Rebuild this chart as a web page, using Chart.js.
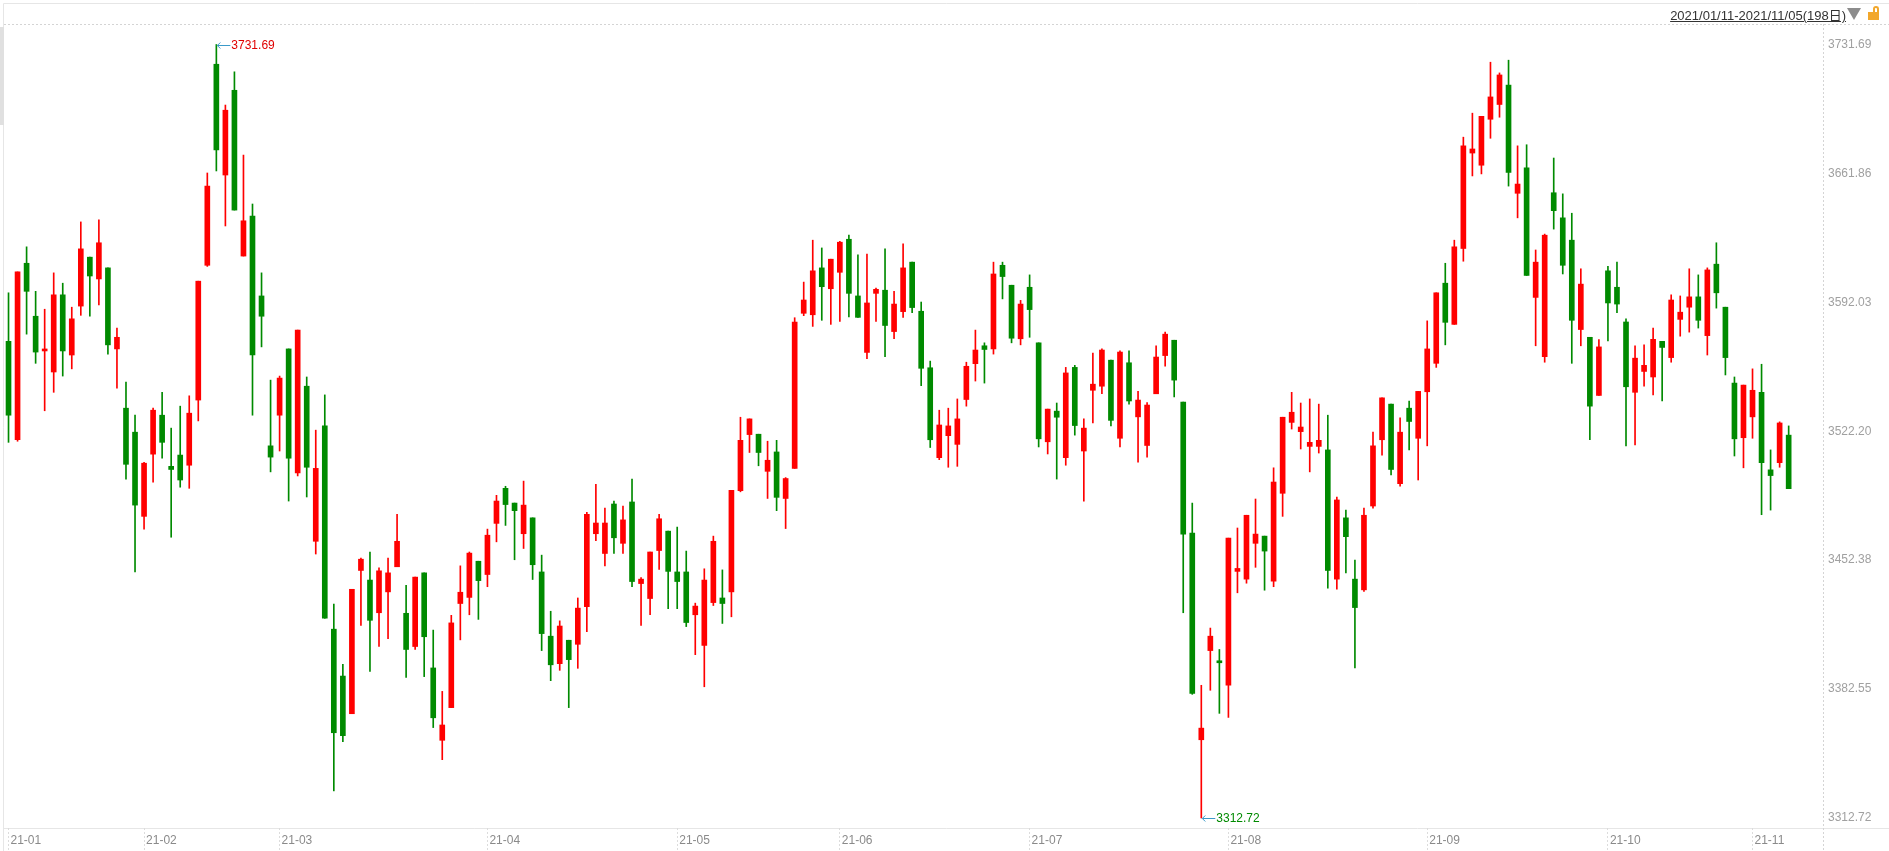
<!DOCTYPE html>
<html lang="zh-CN">
<head>
  <meta charset="UTF-8">
  <title>K线图 2021/01/11-2021/11/05</title>
  <script src="https://cdn.jsdelivr.net/npm/chart.js@4.4.1/dist/chart.umd.min.js"></script>
  <style>
    body {
      margin: 0;
      padding: 0;
      background: #fff;
      font-family: "Liberation Sans", Arial, "Noto Sans CJK SC", sans-serif;
    }
    .wrap {
      position: relative;
      width: 1889px;
      height: 851px;
      overflow: hidden;
    }
    /* 顶部右侧的区间文字 */
    .range {
      position: absolute;
      right: 43px;
      top: 5px;
      font-size: 13px;
      color: #333;
      text-decoration: underline;
      font-family: "Liberation Sans", Arial, "Noto Sans CJK SC", sans-serif;
    }
    .tri {
      position: absolute;
      left: 1847px;
      top: 8px;
      width: 0;
      height: 0;
      border-left: 7px solid transparent;
      border-right: 7px solid transparent;
      border-top: 12px solid #8c8c8c;
    }
    .lock {
      position: absolute;
      left: 1868px;
      top: 12px;
      width: 11px;
      height: 8px;
      background: #f2a72b;
    }
    .lock::before {
      content: "";
      position: absolute;
      left: 5px;
      top: -6px;
      width: 6px;
      height: 7px;
      border: 2px solid #f2a72b;
      border-bottom: none;
      border-radius: 4px 4px 0 0;
      box-sizing: border-box;
    }
  </style>
</head>
<body>
<div class="wrap">
  <canvas id="kline"></canvas>
  <div class="range" id="range"></div>
  <div class="tri"></div>
  <div class="lock"></div>
</div>

<script>
// ---- 数据 ----
const rangeText = "2021/01/11-2021/11/05(198日)";

// 每月第一个交易日的序号与标签
const monthStarts = [0, 15, 30, 53, 74, 92, 113, 135, 157, 177, 193];
const monthLabels = ["21-01", "21-02", "21-03", "21-04", "21-05", "21-06",
                     "21-07", "21-08", "21-09", "21-10", "21-11"];

// 右侧价格刻度
const priceTicks = [3312.72, 3382.55, 3452.38, 3522.20, 3592.03, 3661.86, 3731.69];

const opens = [
  3570.9, 3517.6, 3613.2, 3584.5, 3565.7, 3554.3, 3596.1, 3563.5, 3590.0, 3616.5,
  3604.7, 3610.7, 3566.8, 3534.7, 3521.7, 3476.1, 3509.8, 3530.9, 3503.2, 3509.3,
  3503.8, 3539.1, 3612.1, 3721.0, 3661.0, 3706.9, 3617.1, 3638.7, 3595.5, 3514.3,
  3530.9, 3566.8, 3499.6, 3546.6, 3462.6, 3525.1, 3415.0, 3389.6, 3369.2, 3446.8,
  3441.6, 3423.9, 3435.2, 3448.8, 3423.6, 3405.6, 3445.5, 3394.0, 3354.8, 3372.5,
  3428.9, 3432.2, 3451.8, 3444.6, 3472.3, 3491.3, 3483.3, 3466.7, 3475.3, 3446.0,
  3411.2, 3396.3, 3409.0, 3406.8, 3427.2, 3466.7, 3456.0, 3482.8, 3461.5, 3483.9,
  3439.7, 3431.6, 3457.6, 3468.1, 3446.0, 3446.0, 3422.8, 3406.2, 3429.4, 3431.9,
  3435.2, 3490.0, 3520.4, 3520.6, 3500.5, 3511.0, 3485.8, 3502.1, 3586.1, 3585.3,
  3610.7, 3599.4, 3608.3, 3626.2, 3595.5, 3564.9, 3596.9, 3598.6, 3576.2, 3587.0,
  3613.8, 3587.2, 3556.6, 3507.9, 3519.8, 3515.1, 3539.4, 3558.8, 3568.5, 3566.8,
  3612.1, 3601.3, 3572.3, 3600.2, 3570.1, 3516.5, 3533.1, 3507.9, 3556.8, 3511.5,
  3544.4, 3546.6, 3560.7, 3518.4, 3559.3, 3530.0, 3514.5, 3542.5, 3563.2, 3571.5,
  3538.0, 3467.0, 3355.1, 3403.4, 3397.4, 3384.6, 3446.3, 3442.1, 3461.5, 3465.4,
  3441.0, 3488.6, 3527.0, 3522.0, 3514.0, 3514.0, 3512.1, 3442.1, 3475.3, 3442.1,
  3436.3, 3481.7, 3517.6, 3536.9, 3493.8, 3534.7, 3518.4, 3543.6, 3559.0, 3602.4,
  3580.1, 3621.2, 3672.9, 3666.3, 3691.2, 3699.2, 3709.7, 3651.1, 3664.9, 3594.7,
  3562.6, 3651.4, 3637.8, 3625.7, 3577.3, 3573.1, 3541.6, 3609.1, 3600.2, 3581.4,
  3543.3, 3554.6, 3551.6, 3570.9, 3562.1, 3582.8, 3589.4, 3595.0, 3574.0, 3612.7,
  3589.4, 3548.3, 3518.7, 3530.0, 3543.3, 3501.3, 3505.2, 3520.1
];
const highs = [
  3597.2, 3608.5, 3622.1, 3598.0, 3588.3, 3608.0, 3602.4, 3589.4, 3635.6, 3616.5,
  3636.7, 3610.7, 3578.1, 3548.8, 3530.9, 3505.4, 3534.7, 3543.3, 3523.9, 3535.8,
  3541.4, 3603.5, 3662.1, 3731.69, 3698.9, 3716.9, 3671.8, 3645.3, 3608.0, 3549.9,
  3552.1, 3566.8, 3577.0, 3551.6, 3522.8, 3541.9, 3428.6, 3396.0, 3436.6, 3453.5,
  3456.8, 3448.2, 3453.5, 3477.2, 3438.8, 3443.2, 3445.5, 3414.5, 3381.3, 3422.5,
  3449.3, 3456.8, 3451.8, 3469.2, 3487.5, 3492.4, 3483.3, 3495.2, 3475.3, 3455.1,
  3424.7, 3419.5, 3409.0, 3431.9, 3478.3, 3493.5, 3480.6, 3484.4, 3481.7, 3496.3,
  3443.0, 3456.8, 3477.2, 3468.1, 3470.3, 3457.3, 3429.1, 3447.7, 3465.4, 3447.1,
  3490.2, 3529.8, 3528.9, 3520.6, 3516.8, 3517.3, 3497.1, 3583.7, 3603.0, 3625.7,
  3621.5, 3615.4, 3625.1, 3628.4, 3617.7, 3618.2, 3599.7, 3621.0, 3598.0, 3623.7,
  3613.8, 3592.2, 3560.2, 3533.6, 3534.7, 3539.7, 3559.6, 3577.0, 3570.1, 3613.8,
  3613.8, 3601.3, 3593.1, 3606.9, 3570.1, 3534.2, 3537.5, 3556.8, 3557.9, 3528.9,
  3564.6, 3566.8, 3560.7, 3565.7, 3565.7, 3543.8, 3537.8, 3568.5, 3575.9, 3571.5,
  3538.0, 3483.3, 3384.6, 3415.6, 3404.0, 3464.3, 3469.8, 3476.7, 3485.5, 3465.4,
  3502.4, 3529.8, 3543.3, 3537.5, 3539.7, 3536.9, 3530.9, 3486.6, 3479.5, 3452.4,
  3480.6, 3521.7, 3540.3, 3536.9, 3529.5, 3538.6, 3543.8, 3582.0, 3597.2, 3613.2,
  3625.7, 3681.5, 3694.5, 3692.8, 3722.1, 3716.3, 3723.2, 3676.8, 3677.4, 3620.4,
  3629.0, 3670.2, 3650.8, 3640.3, 3610.2, 3573.1, 3571.8, 3611.6, 3613.8, 3583.1,
  3568.5, 3569.0, 3578.1, 3570.9, 3596.1, 3595.5, 3610.2, 3606.9, 3610.7, 3624.3,
  3589.4, 3551.6, 3547.2, 3556.0, 3558.5, 3512.1, 3527.3, 3525.1
];
const lows = [
  3516.2, 3516.8, 3574.8, 3559.0, 3533.3, 3543.3, 3552.1, 3556.0, 3585.0, 3584.5,
  3590.6, 3564.0, 3545.5, 3496.3, 3446.0, 3469.2, 3494.6, 3507.6, 3464.8, 3491.9,
  3491.3, 3527.8, 3611.5, 3663.2, 3633.4, 3642.0, 3617.1, 3530.9, 3567.9, 3500.2,
  3511.5, 3484.4, 3498.0, 3486.6, 3455.7, 3420.9, 3327.4, 3354.0, 3369.2, 3417.0,
  3392.1, 3405.6, 3409.8, 3448.8, 3388.8, 3404.0, 3389.3, 3361.7, 3344.3, 3372.5,
  3409.2, 3422.8, 3420.3, 3438.0, 3462.3, 3471.2, 3452.6, 3458.7, 3441.9, 3403.4,
  3387.1, 3392.7, 3372.5, 3393.8, 3413.7, 3462.9, 3449.3, 3456.0, 3456.0, 3438.0,
  3417.0, 3422.8, 3447.4, 3426.1, 3426.1, 3416.4, 3401.2, 3383.8, 3427.8, 3418.1,
  3421.7, 3489.4, 3510.7, 3503.5, 3485.8, 3479.2, 3469.5, 3502.1, 3584.8, 3579.0,
  3582.3, 3580.1, 3581.7, 3584.2, 3583.9, 3561.5, 3581.7, 3562.6, 3572.3, 3583.9,
  3586.4, 3546.9, 3513.4, 3506.8, 3502.7, 3503.2, 3535.8, 3549.4, 3548.3, 3564.0,
  3593.9, 3570.1, 3569.0, 3573.1, 3513.7, 3509.9, 3496.3, 3503.8, 3520.1, 3484.4,
  3526.7, 3542.5, 3525.1, 3513.7, 3536.9, 3505.4, 3508.2, 3542.5, 3557.4, 3540.8,
  3423.9, 3379.7, 3312.72, 3381.9, 3369.4, 3367.2, 3434.7, 3439.9, 3448.5, 3436.1,
  3438.0, 3476.1, 3523.4, 3512.6, 3500.2, 3510.4, 3437.2, 3436.6, 3445.5, 3394.0,
  3435.5, 3480.6, 3509.3, 3498.5, 3492.4, 3512.1, 3495.8, 3514.3, 3556.8, 3569.0,
  3580.1, 3614.3, 3660.5, 3661.6, 3680.9, 3692.3, 3655.0, 3637.8, 3606.6, 3568.5,
  3559.6, 3631.7, 3607.4, 3559.0, 3568.5, 3517.6, 3541.6, 3571.2, 3586.4, 3514.3,
  3514.8, 3546.6, 3541.9, 3538.6, 3559.6, 3573.7, 3575.9, 3578.1, 3563.5, 3588.9,
  3552.7, 3508.8, 3502.4, 3518.4, 3477.0, 3479.5, 3502.7, 3491.1
];
const closes = [
  3530.9, 3608.5, 3598.0, 3565.1, 3566.2, 3596.1, 3565.7, 3583.1, 3621.0, 3606.3,
  3624.3, 3569.0, 3573.1, 3504.3, 3482.2, 3504.9, 3533.6, 3516.2, 3501.5, 3495.8,
  3532.0, 3603.5, 3655.0, 3674.6, 3696.1, 3642.0, 3636.2, 3563.5, 3584.5, 3508.2,
  3551.0, 3507.6, 3577.0, 3502.7, 3502.1, 3420.9, 3358.9, 3357.3, 3436.6, 3452.9,
  3419.8, 3446.6, 3445.5, 3462.6, 3404.0, 3443.2, 3410.9, 3367.0, 3363.1, 3418.4,
  3435.0, 3456.2, 3441.3, 3465.9, 3484.4, 3482.5, 3479.2, 3482.2, 3449.9, 3412.6,
  3395.7, 3416.7, 3398.5, 3426.4, 3477.2, 3472.5, 3472.5, 3464.5, 3474.2, 3440.8,
  3442.1, 3456.8, 3474.8, 3446.3, 3440.8, 3418.6, 3427.5, 3441.6, 3462.6, 3428.9,
  3490.2, 3517.3, 3528.9, 3510.7, 3506.5, 3486.4, 3496.6, 3581.4, 3593.3, 3609.1,
  3600.5, 3615.4, 3624.6, 3596.9, 3583.9, 3591.7, 3599.1, 3579.5, 3591.1, 3610.7,
  3589.2, 3556.3, 3517.6, 3525.6, 3525.1, 3528.9, 3557.4, 3566.2, 3566.5, 3607.4,
  3606.0, 3572.6, 3591.1, 3588.1, 3518.1, 3534.2, 3529.8, 3553.8, 3525.3, 3523.9,
  3547.7, 3566.2, 3528.1, 3565.1, 3538.6, 3539.1, 3536.4, 3562.4, 3574.8, 3549.9,
  3466.5, 3380.2, 3361.4, 3411.2, 3396.8, 3464.3, 3447.9, 3476.7, 3466.5, 3457.3,
  3494.7, 3529.8, 3532.5, 3524.5, 3516.2, 3517.3, 3446.8, 3485.0, 3465.1, 3426.7,
  3476.7, 3514.3, 3540.3, 3501.5, 3521.7, 3527.5, 3543.8, 3566.8, 3597.2, 3581.2,
  3622.1, 3676.8, 3675.1, 3692.8, 3703.3, 3715.2, 3662.4, 3656.1, 3606.6, 3613.8,
  3628.4, 3641.7, 3612.1, 3582.3, 3601.9, 3535.8, 3567.9, 3591.7, 3591.1, 3546.3,
  3561.8, 3557.9, 3572.0, 3567.6, 3593.3, 3586.7, 3595.0, 3582.3, 3609.6, 3597.2,
  3562.1, 3518.1, 3547.2, 3544.4, 3505.2, 3498.2, 3526.7, 3491.1
];

// ---- 颜色 ----
const UP = "#ff0000";     // 阳线
const DOWN = "#008a00";   // 阴线
const candleColor = (i) => (closes[i] >= opens[i] ? UP : DOWN);

document.getElementById("range").textContent = rangeText;

// 影线和实体都是浮动柱
const wickData = highs.map((h, i) => ({ x: i, y: [lows[i], h] }));
const bodyData = opens.map((o, i) => ({ x: i, y: [o, closes[i]] }));

// 外框、虚线和左侧灰条
const framePlugin = {
  id: "frame",
  beforeDraw(chart) {
    const { ctx, chartArea } = chart;
    const w = chart.width, h = chart.height;
    ctx.save();
    ctx.strokeStyle = "#e6e6e6";
    ctx.lineWidth = 1;
    ctx.beginPath();
    ctx.moveTo(3.5, h); ctx.lineTo(3.5, 3.5); ctx.lineTo(w, 3.5);
    ctx.moveTo(3.5, chartArea.bottom + 0.5); ctx.lineTo(w, chartArea.bottom + 0.5);
    ctx.stroke();

    ctx.strokeStyle = "#d4d4d4";
    ctx.setLineDash([2, 2]);
    ctx.beginPath();
    ctx.moveTo(4, chartArea.top + 0.5); ctx.lineTo(w, chartArea.top + 0.5);
    ctx.moveTo(chartArea.right + 0.5, chartArea.top); ctx.lineTo(chartArea.right + 0.5, h);
    ctx.stroke();
    ctx.setLineDash([]);

    ctx.fillStyle = "#e0e0e0";
    ctx.fillRect(0, 27, 4, 98);
    ctx.restore();
  }
};

// 最高价和最低价的标注
const extremePlugin = {
  id: "extremes",
  afterDatasetsDraw(chart) {
    const { ctx, scales } = chart;
    const hi = highs.indexOf(Math.max(...highs));
    const lo = lows.indexOf(Math.min(...lows));
    const marks = [
      { i: hi, v: highs[hi], color: "#e00000" },
      { i: lo, v: lows[lo], color: "#008a00" }
    ];
    ctx.save();
    ctx.font = "12px 'Liberation Sans', Arial, sans-serif";
    ctx.textBaseline = "middle";
    marks.forEach((m) => {
      const x = scales.x.getPixelForValue(m.i);
      const y = Math.round(scales.y.getPixelForValue(m.v)) + 0.5;
      ctx.strokeStyle = "#3b9ac9";
      ctx.lineWidth = 1;
      ctx.beginPath();
      ctx.moveTo(x + 1, y); ctx.lineTo(x + 14, y);
      ctx.moveTo(x + 4, y - 3); ctx.lineTo(x + 1, y); ctx.lineTo(x + 4, y + 3);
      ctx.stroke();
      ctx.fillStyle = m.color;
      ctx.fillText(m.v.toFixed(2), x + 15, y);
    });
    ctx.restore();
  }
};

const canvas = document.getElementById("kline");
canvas.width = 1889;
canvas.height = 851;

new Chart(canvas, {
  type: "bar",
  data: {
    datasets: [
      {
        label: "影线",
        data: wickData,
        backgroundColor: (c) => candleColor(c.dataIndex),
        barThickness: 1,
        grouped: false,
        borderWidth: 0,
        order: 2
      },
      {
        label: "实体",
        data: bodyData,
        backgroundColor: (c) => candleColor(c.dataIndex),
        barThickness: 5,
        minBarLength: 2,
        grouped: false,
        borderWidth: 0,
        order: 1
      }
    ]
  },
  options: {
    responsive: false,
    animation: false,
    layout: { padding: { top: 24, left: 4, right: 0, bottom: 0 } },
    plugins: {
      legend: { display: false },
      tooltip: { enabled: false }
    },
    scales: {
      x: {
        type: "linear",
        min: -0.5,
        max: 200.8,
        offset: false,
        afterBuildTicks: (scale) => {
          scale.ticks = monthStarts.map((v) => ({ value: v }));
        },
        afterFit: (scale) => { scale.height = 23; },
        grid: {
          offset: false,
          drawOnChartArea: false,
          drawTicks: true,
          tickLength: 23,
          color: "#dcdcdc",
          tickBorderDash: [2, 2]
        },
        border: { display: false },
        ticks: {
          autoSkip: false,
          maxRotation: 0,
          align: "start",
          padding: -18,
          labelOffset: 2,
          color: "#8a8a8a",
          font: { size: 12, family: "'Liberation Sans', Arial, sans-serif" },
          callback: (v) => monthLabels[monthStarts.indexOf(v)]
        }
      },
      y: {
        position: "right",
        min: 3307.3,
        max: 3742.8,
        afterBuildTicks: (scale) => {
          scale.ticks = priceTicks.map((v) => ({ value: v }));
        },
        afterFit: (scale) => { scale.width = 66; },
        grid: { drawOnChartArea: false, drawTicks: false },
        border: { display: false },
        ticks: {
          padding: 5,
          color: "#a0a0a0",
          font: { size: 12, family: "'Liberation Sans', Arial, sans-serif" },
          callback: (v) => Number(v).toFixed(2)
        }
      }
    }
  },
  plugins: [framePlugin, extremePlugin]
});
</script>
</body>
</html>
